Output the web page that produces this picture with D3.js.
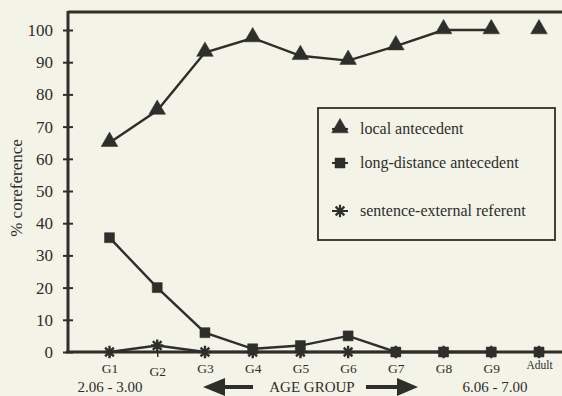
<!DOCTYPE html>
<html><head><meta charset="utf-8">
<script src="https://cdn.jsdelivr.net/npm/d3@7"></script>
<style>
html,body{margin:0;padding:0;background:#f3f3e8;}
svg{display:block;}
</style></head>
<body>
<script>
const categories = ["G1","G2","G3","G4","G5","G6","G7","G8","G9","Adult"];
const localAntecedent = [65, 75, 93, 97.5, 92, 90.5, 95, 100, 100, 100];
const longDistance = [35.5, 20, 6, 1, 2, 5, 0, 0, 0, 0];
const sentenceExternal = [0, 2, 0, 0, 0, 0, 0, 0, 0, 0];
const yTicks = [0,10,20,30,40,50,60,70,80,90,100];
const seriesNames = ["local antecedent","long-distance antecedent","sentence-external referent"];

const W = 562, H = 396;
const ink = "#2e2e2b";
const FONT = "Liberation Serif";
const svg = d3.select("body").append("svg").attr("width", W).attr("height", H);

const x = d3.scalePoint().domain(categories).range([109.5, 539]).padding(0);
const y = d3.scaleLinear().domain([0, 100]).range([352, 30]);

// frame
svg.append("line").attr("x1", 68).attr("x2", W).attr("y1", 12).attr("y2", 12)
  .attr("stroke", ink).attr("stroke-width", 3);
svg.append("line").attr("x1", 68).attr("x2", 68).attr("y1", 11).attr("y2", 353)
  .attr("stroke", ink).attr("stroke-width", 3);

// y axis
const yAxis = svg.append("g").attr("transform", "translate(68,0)")
  .call(d3.axisLeft(y).tickValues(yTicks).tickSize(5).tickPadding(10));
yAxis.attr("font-family", FONT);
yAxis.select(".domain").remove();
yAxis.selectAll(".tick line").attr("x1", -5).attr("x2", 5).attr("stroke", ink).attr("stroke-width", 2);
yAxis.selectAll(".tick text").attr("font-family", FONT).attr("font-size", 17).attr("fill", ink);

// x axis
const xAxis = svg.append("g").attr("transform", "translate(0,352)")
  .call(d3.axisBottom(x).tickSize(5).tickPadding(6));
xAxis.attr("font-family", FONT);
xAxis.select(".domain").remove();
xAxis.selectAll(".tick line").attr("stroke", ink).attr("stroke-width", 1.5);
xAxis.selectAll(".tick text").attr("font-family", FONT)
  .attr("font-size", d => d === "Adult" ? 11.5 : 13.5).attr("fill", ink)
  .attr("dy", d => d === "Adult" ? "0.55em" : (d === "G2" ? "0.95em" : "0.75em"));
svg.append("line").attr("x1", 66).attr("x2", W).attr("y1", 352).attr("y2", 352)
  .attr("stroke", ink).attr("stroke-width", 3);

// y label
svg.append("text").attr("transform", "translate(22,188) rotate(-90)")
  .attr("font-family", FONT).attr("fill", ink)
  .attr("text-anchor", "middle").attr("font-size", 17).text("% coreference");

// lines
const lineGen = d3.line().x(d => x(d.c)).y(d => y(d.v));
function drawSeries(vals){
  const pts = categories.map((c,i) => ({c, v: vals[i]}));
  svg.append("path").datum(pts.slice(0, 9)).attr("d", lineGen)
    .attr("fill", "none").attr("stroke", ink).attr("stroke-width", 2.4);
  return pts;
}
// custom asterisk (8-point star)
const starType = {
  draw(ctx, size){
    const r = Math.sqrt(size) / 1.7;
    for (let k = 0; k < 4; k++){
      const a = k * Math.PI / 4;
      ctx.moveTo(-r*Math.cos(a), -r*Math.sin(a));
      ctx.lineTo(r*Math.cos(a), r*Math.sin(a));
    }
  }
};
const symPath = {
  tri: d3.symbol().type(d3.symbolTriangle).size(120)(),
  sq: d3.symbol().type(d3.symbolSquare).size(100)(),
  star: d3.symbol().type(starType).size(110)()
};
function drawMarkers(pts, kind){
  svg.append("g").selectAll("path").data(pts).join("path")
    .attr("transform", d => `translate(${x(d.c)},${y(d.v) - (kind==="tri"?1:0)})`)
    .attr("d", symPath[kind])
    .attr("fill", ink).attr("stroke", ink).attr("stroke-width", kind === "star" ? 2.4 : 0.5);
}

const p3 = drawSeries(sentenceExternal);
const p2 = drawSeries(longDistance);
const p1 = drawSeries(localAntecedent);
drawMarkers(p3, "star");
drawMarkers(p2, "sq");
drawMarkers(p1, "tri");

// legend
svg.append("rect").attr("x", 318).attr("y", 108).attr("width", 237).attr("height", 132)
  .attr("fill", "none").attr("stroke", ink).attr("stroke-width", 1.8);
const legRows = [{name: seriesNames[0], kind: "tri", y: 129},
                 {name: seriesNames[1], kind: "sq", y: 163},
                 {name: seriesNames[2], kind: "star", y: 211}];
legRows.forEach(r => {
  svg.append("line").attr("x1", 332).attr("x2", 348).attr("y1", r.y).attr("y2", r.y)
    .attr("stroke", ink).attr("stroke-width", 2);
  svg.append("path").attr("transform", `translate(340,${r.y - (r.kind==="tri"?1:0)})`)
    .attr("d", symPath[r.kind])
    .attr("fill", ink).attr("stroke", ink).attr("stroke-width", r.kind === "star" ? 2.2 : 0.5);
  svg.append("text").attr("x", 360).attr("y", r.y + 5).attr("font-family", FONT)
    .attr("fill", ink).attr("font-size", 16).text(r.name);
});

// bottom annotations
const bottom = [{t: "2.06 - 3.00", x: 110}, {t: "AGE GROUP", x: 312}, {t: "6.06 - 7.00", x: 495}];
bottom.forEach(b => svg.append("text").attr("x", b.x).attr("y", 392).attr("text-anchor", "middle")
  .attr("font-family", FONT).attr("fill", ink).attr("font-size", 15).text(b.t));
// arrows
svg.append("path").attr("d", "M203,387 L225,378 L225,385 L253,385 L253,389 L225,389 L225,396 Z").attr("fill", ink);
svg.append("path").attr("d", "M366,385 L397,385 L397,378 L418,387 L397,396 L397,389 L366,389 Z").attr("fill", ink);
</script>
</body></html>
